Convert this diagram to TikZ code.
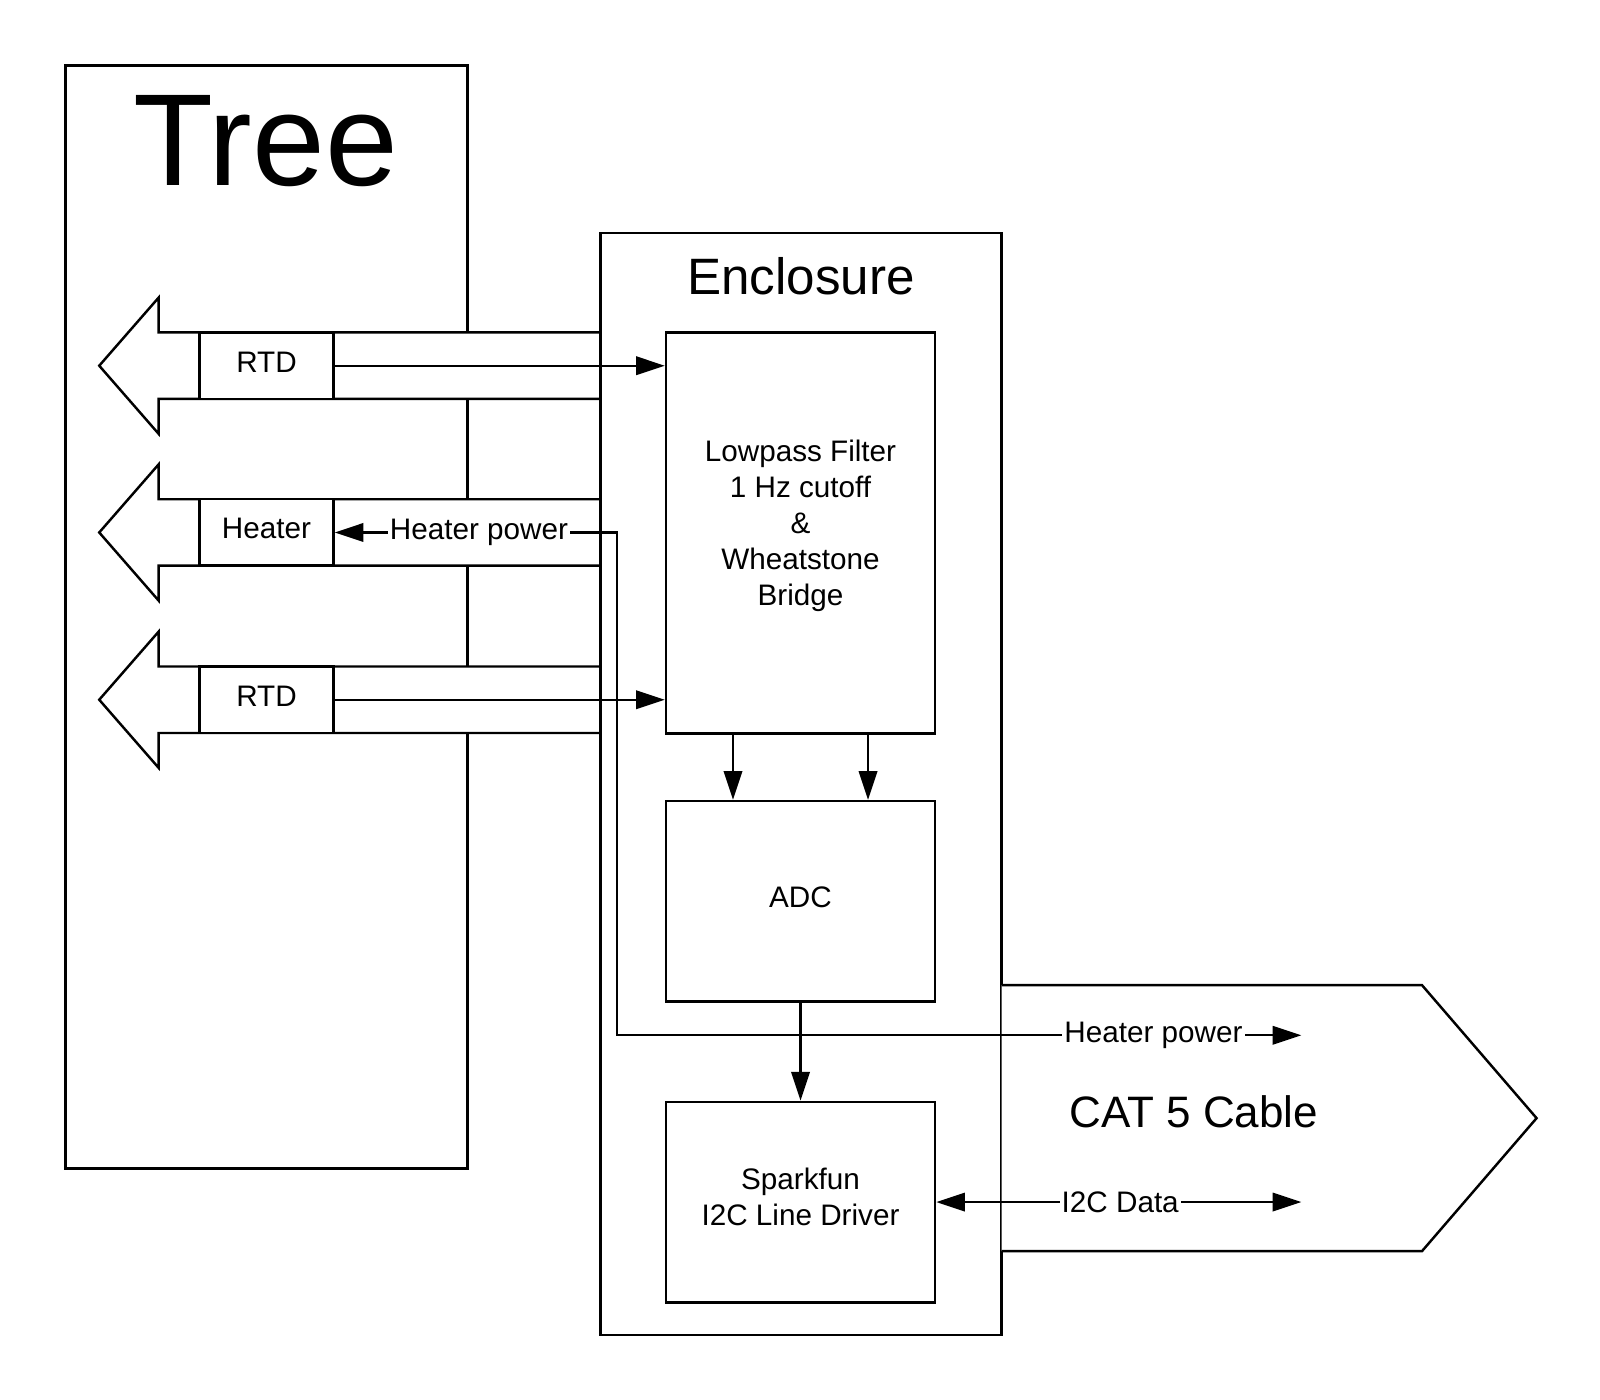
\documentclass[tikz,border=0pt]{standalone}
\usepackage{fontspec}
\setmainfont{Liberation Sans}
\usetikzlibrary{arrows.meta}
\begin{document}
\begin{tikzpicture}[x=0.5pt,y=-0.5pt,
  outline/.style={draw,line width=1.2pt,fill=white},
  blk/.style={draw,line width=1.2pt,fill=white,inner sep=0pt},
  txt/.style={inner sep=0pt,align=center,font=\fontsize{14.5}{17.7}\selectfont},
  conn/.style={line width=1.1pt,-{Triangle[length=14pt,width=9pt]}},
  dconn/.style={line width=1.1pt,{Triangle[length=14pt,width=9pt]}-{Triangle[length=14pt,width=9pt]}},
  lbl/.style={fill=white,inner sep=1pt,font=\fontsize{14.5}{17.7}\selectfont}]
\useasboundingbox[fill=white] (0,0) rectangle (1564,1368);

% Tree
\node[outline,minimum width=196.5pt,minimum height=539pt,inner sep=0pt] (tree) at (260.5,603) {};
\node[font=\fontsize{64}{70}\selectfont,inner sep=0pt] (treelbl) at (260,137.5) {Tree};

% left-pointing arrow shapes
\foreach \c in {357.5,520.5,684}{
  \draw[outline] (587,{\c-32.5}) -- (155,{\c-32.5}) -- (155,{\c-66.5}) -- (97,\c)
     -- (155,{\c+66.5}) -- (155,{\c+32.5}) -- (587,{\c+32.5});
}

% Enclosure
\node[draw,line width=1.2pt,minimum width=196pt,minimum height=538.5pt,inner sep=0pt] (enc) at (783,766.5) {};
\node[font=\fontsize{25}{30}\selectfont,inner sep=0pt] (enclbl) at (783,270) {Enclosure};

% CAT 5 cable
\draw[outline] (979,963) -- (1390,963) -- (1502,1093) -- (1390,1223) -- (979,1223);
\node[font=\fontsize{21.5}{26}\selectfont,inner sep=0pt] (catlbl) at (1167,1087) {CAT 5 Cable};

% boxes on arrows
\node[blk,minimum width=65.5pt,minimum height=32.5pt] (rtd1) at (260.5,357.5) {};
\node[txt,yshift=1.75pt] (rtd1t) at (rtd1.center) {RTD};
\node[blk,minimum width=65.5pt,minimum height=32.5pt] (heater) at (260.5,520.5) {};
\node[txt,yshift=1.75pt] (heatert) at (heater.center) {Heater};
\node[blk,minimum width=65.5pt,minimum height=32.5pt] (rtd2) at (260.5,684) {};
\node[txt,yshift=1.75pt] (rtd2t) at (rtd2.center) {RTD};

% enclosure blocks
\node[blk,minimum width=131.5pt,minimum height=196pt] (lp) at (782.5,521) {};
\node[txt,yshift=3.5pt] (lpt) at (lp.center) {Lowpass Filter\\1 Hz cutoff\\\&\\Wheatstone\\Bridge};
\node[blk,minimum width=131.5pt,minimum height=98pt] (adc) at (782.5,881) {};
\node[txt,yshift=2pt] (adct) at (adc.center) {ADC};
\node[blk,minimum width=131.5pt,minimum height=98pt] (spark) at (782.5,1175) {};
\node[txt,yshift=2.5pt] (sparkt) at (spark.center) {Sparkfun\\I2C Line Driver};

% free ends
\coordinate (hpx) at (603,1012);
\coordinate (hpEnd) at (1272,1012);
\coordinate (i2cEnd) at (1272,1175);

% connectors
\draw[conn] (rtd1.east) -- (lp.west |- rtd1.east);
\draw[conn] (rtd2.east) -- (lp.west |- rtd2.east);
\draw[conn] ([xshift=-33pt]lp.south) -- ([xshift=-33pt]adc.north);
\draw[conn] ([xshift=33pt]lp.south) -- ([xshift=33pt]adc.north);
\draw[conn] (adc.south) -- (spark.north);
\draw[dconn] (heater.east) -- node[lbl,pos=0.511]{Heater power} (heater.east -| hpx) -- (hpx)
   -- node[lbl,pos=0.784]{Heater power} (hpEnd);
\draw[dconn] (spark.east) -- node[lbl,pos=0.504]{I2C Data} (i2cEnd);
\end{tikzpicture}
\end{document}
